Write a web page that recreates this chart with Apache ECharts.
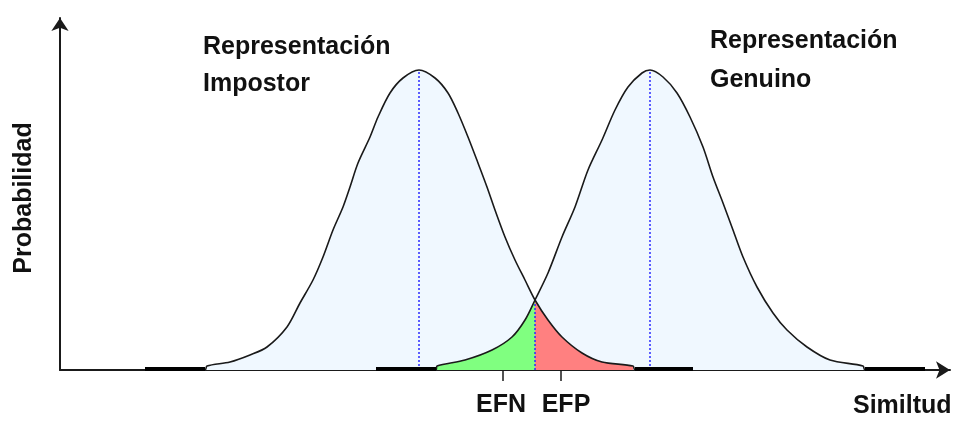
<!DOCTYPE html>
<html>
<head>
<meta charset="utf-8">
<script src="https://cdn.jsdelivr.net/npm/echarts@6/dist/echarts.min.js"></script>
<style>
  html, body { margin: 0; padding: 0; background: #fff; }
  #chart { width: 960px; height: 421px; }
</style>
</head>
<body>
<div id="chart"></div>
<script>
// similitud (x) and probabilidad (y) points
const impostorX = [85, 145, 147, 170, 190, 207, 227, 240, 253, 263, 273, 283, 290, 298, 310, 318, 330, 343, 359, 375, 388, 398, 408, 418, 427, 435, 445, 455, 465, 475, 488, 502, 522, 542, 573, 575, 633]
const impostorY = [0, 0, 4, 8, 15, 23, 43, 67, 90, 113, 140, 163, 183, 207, 233, 253, 277, 292, 300, 292, 277, 257, 233, 207, 183, 160, 133, 110, 90, 70, 50, 33, 17, 8, 4, 0, 0]

const genuineX = [316, 376, 377, 405, 432, 452, 465, 475, 488, 502, 515, 528, 542, 555, 568, 582, 590, 603, 617, 630, 643, 653, 663, 673, 683, 697, 713, 727, 747, 770, 803, 805, 865]
const genuineY = [0, 0, 4, 10, 20, 33, 50, 70, 97, 133, 163, 200, 230, 260, 283, 297, 300, 293, 277, 253, 223, 193, 167, 140, 113, 83, 57, 40, 23, 10, 4, 0, 0]

// thick flat tails of each curve along the baseline
const tailRanges = [[85, 145], [316, 376], [575, 633], [805, 865]]

// error regions: EFN under the genuine curve, EFP under the impostor curve
const threshold = 475
const efnRange = [377, 475]
const efpRange = [475, 573]

// means (dotted guides)
const impostorMean = 359
const genuineMean = 590
const thresholdHeight = 70

const tickValues = [443, 501]
const labelValues = [441, 506]
const tickLabels = ['EFN', 'EFP']

const toPairs = (xs, ys) => xs.map((x, i) => [x, ys[i]])
const impostorData = toPairs(impostorX, impostorY)
const genuineData = toPairs(genuineX, genuineY)
const inRange = (data, r) => data.filter(p => p[0] >= r[0] && p[0] <= r[1])

const FONT = 'Liberation Sans, Arial, sans-serif'
const TEXT_COLOR = '#111'

const chart = echarts.init(document.getElementById('chart'), null, { renderer: 'canvas' })

const fill = (data, color, z) => ({
    type: 'line',
    data: data,
    showSymbol: false,
    smooth: 0.3,
    lineStyle: { width: 0 },
    areaStyle: { color: color, opacity: 1 },
    z: z,
    silent: true
})

const curve = (data) => ({
    type: 'line',
    data: data,
    showSymbol: false,
    smooth: 0.3,
    lineStyle: { color: '#1a1a1a', width: 1.6 },
    z: 5,
    silent: true
})

const guide = (x, h) => ({
    type: 'line',
    data: [[x, 0], [x, h]],
    showSymbol: false,
    lineStyle: { color: '#2a2aff', width: 1.5, type: [2, 2] },
    z: 4,
    silent: true
})

const tails = tailRanges.map(r => ({
    type: 'line',
    data: [[r[0], 1], [r[1], 1]],
    showSymbol: false,
    lineStyle: { color: '#000', width: 4 },
    z: 6,
    silent: true
}))

chart.setOption({
    animation: false,
    grid: { left: 60, right: 10, top: 18, bottom: 51 },
    xAxis: {
        type: 'value',
        min: 0,
        max: 890,
        splitLine: { show: false },
        axisLine: {
            lineStyle: { color: '#1a1a1a', width: 2 },
            symbol: ['none', 'arrow'],
            symbolSize: [13, 14]
        },
        axisTick: {
            show: true,
            customValues: tickValues,
            length: 11,
            lineStyle: { color: '#1a1a1a', width: 1.5 }
        },
        axisLabel: {
            customValues: labelValues,
            formatter: v => tickLabels[labelValues.indexOf(v)] || '',
            margin: 23,
            fontFamily: FONT,
            fontWeight: 'bold',
            fontSize: 25,
            color: TEXT_COLOR
        }
    },
    yAxis: {
        type: 'value',
        min: 0,
        max: 352,
        splitLine: { show: false },
        axisTick: { show: false },
        axisLabel: { show: false },
        axisLine: {
            show: true,
            lineStyle: { color: '#1a1a1a', width: 2 },
            symbol: ['none', 'arrow'],
            symbolSize: [13, 13]
        }
    },
    graphic: [
        { type: 'text', left: 203, top: 29, style: { text: 'Representación\nImpostor', font: 'bold 25px ' + FONT, fill: TEXT_COLOR, lineHeight: 37 } },
        { type: 'text', left: 710, top: 22, style: { text: 'Representación\nGenuino', font: 'bold 25px ' + FONT, fill: TEXT_COLOR, lineHeight: 39 } },
        { type: 'text', left: 853, top: 394, style: { text: 'Similtud', font: 'bold 25px ' + FONT, fill: TEXT_COLOR } },
        { type: 'text', x: 24, y: 198, rotation: Math.PI / 2, style: { text: 'Probabilidad', font: 'bold 25px ' + FONT, fill: TEXT_COLOR, align: 'center', verticalAlign: 'middle' } }
    ],
    series: [
        fill(impostorData, '#f0f8ff', 1),
        fill(genuineData, '#f0f8ff', 1),
        fill(inRange(genuineData, efnRange), '#80ff80', 2),
        fill(inRange(impostorData, efpRange), '#ff8080', 2),
        guide(impostorMean, impostorY[impostorX.indexOf(impostorMean)]),
        guide(genuineMean, genuineY[genuineX.indexOf(genuineMean)]),
        guide(threshold, thresholdHeight),
        curve(impostorData),
        curve(genuineData),
        ...tails
    ]
})
</script>
</body>
</html>
